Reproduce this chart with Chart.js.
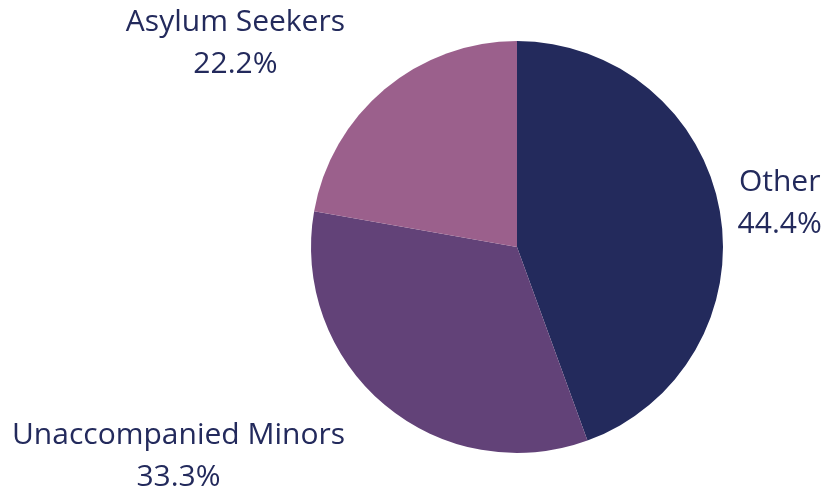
<!DOCTYPE html>
<html>
<head>
<meta charset="utf-8">
<script src="https://cdn.jsdelivr.net/npm/chart.js"></script>
<style>
  html, body { margin: 0; padding: 0; background: #fff; }
  #wrap { width: 838px; height: 489px; position: relative; }
</style>
</head>
<body>
<div id="wrap"><canvas id="myChart"></canvas></div>
<script>
const labels = ["Other", "Unaccompanied Minors", "Asylum Seekers"];
const values = [44.4, 33.3, 22.2];
const colors = ["#232a5c", "#624278", "#9b608c"];

const textColor = "#232a5c";
const fontSize = 30;
const lineGap = 42;

// outside labels: name + percent, anchored next to the middle of each slice
const outsideLabels = {
  id: "outsideLabels",
  afterDraw(chart) {
    const ctx = chart.ctx;
    const meta = chart.getDatasetMeta(0);
    ctx.save();
    ctx.font = fontSize + "px 'Open Sans'";
    ctx.fillStyle = textColor;
    ctx.textBaseline = "alphabetic";
    ctx.textAlign = "center";
    meta.data.forEach((arc, i) => {
      const mid = (arc.startAngle + arc.endAngle) / 2;
      const dx = Math.cos(mid), dy = Math.sin(mid);
      const gap = 18;
      const px = arc.x + (arc.outerRadius + gap) * dx;
      const py = arc.y + (arc.outerRadius + gap) * dy;
      const l1 = labels[i];
      const l2 = values[i].toFixed(1) + "%";
      const w = Math.max(ctx.measureText(l1).width, ctx.measureText(l2).width);
      const h = lineGap + fontSize;
      const left = dx > 0 ? px : px - w - 28;
      const top = py - h / 2 + 1.25 * dy * h / 2 - 3.5;
      const cx = left + w / 2;
      ctx.fillText(l1, cx, top + fontSize);
      ctx.fillText(l2, cx, top + fontSize + lineGap);
    });
    ctx.restore();
  },
};

new Chart(document.getElementById("myChart"), {
  type: "pie",
  data: {
    labels: labels,
    datasets: [
      {
        data: values,
        backgroundColor: colors,
        borderWidth: 0,
      },
    ],
  },
  options: {
    responsive: true,
    maintainAspectRatio: false,
    animation: false,
    layout: {
      padding: { left: 196, right: 0, top: 41, bottom: 36 },
    },
    plugins: {
      legend: { display: false },
      tooltip: { enabled: false },
    },
  },
  plugins: [outsideLabels],
});
</script>
</body>
</html>
